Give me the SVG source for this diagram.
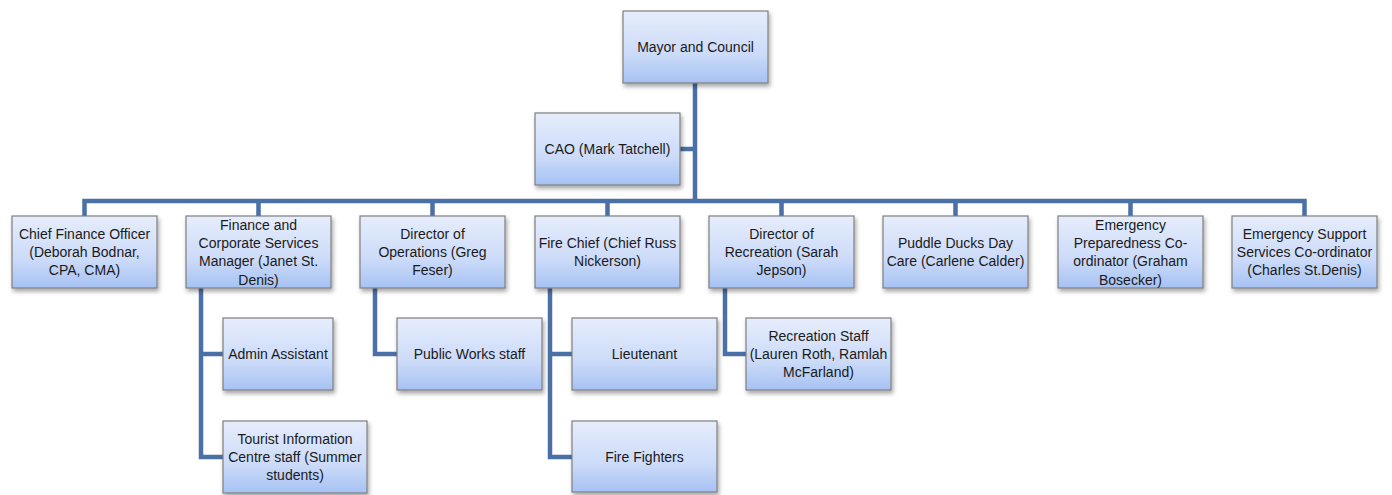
<svg xmlns="http://www.w3.org/2000/svg" width="1392" height="495" viewBox="0 0 1392 495">
<defs>
<linearGradient id="g" x1="0" y1="0" x2="0" y2="1">
<stop offset="0" stop-color="#e6edfc"/>
<stop offset="0.6" stop-color="#ccdbf9"/>
<stop offset="1" stop-color="#a6c2f3"/>
</linearGradient>
<filter id="sh" x="-10%" y="-10%" width="130%" height="140%">
<feDropShadow dx="1.5" dy="3" stdDeviation="2" flood-color="#000" flood-opacity="0.35"/>
</filter>
</defs>
<style>
.box{fill:url(#g);stroke:#7f7f7f;stroke-width:1.2;filter:url(#sh)}
.t{font-family:"Liberation Sans",Arial,sans-serif;font-size:14px;fill:#1a1a1a;text-anchor:middle}
.c{fill:none;stroke:#4a70a7;stroke-width:4.5;stroke-linejoin:miter}
</style>
<rect width="1392" height="495" fill="#fff"/>
<g id="connectors">
<path class="c" d="M695 83V201M680 149H695M84.5 216V201H1304.5V216M258.5 201V216M432.5 201V216M607.5 201V216M781.5 201V216M955.5 201V216M1130.5 201V216"/>
<path class="c" d="M201 288V457H223M201 354H223"/>
<path class="c" d="M375 288V354H397"/>
<path class="c" d="M550 288V457H572M550 354H572"/>
<path class="c" d="M725 288V354H746"/>
</g>
<g id="mayor"><rect class="box" x="623" y="11" width="145" height="72"/><text class="t" x="695.5" y="52">Mayor and Council</text></g>
<g id="cao"><rect class="box" x="535" y="113" width="145" height="72"/><text class="t" x="607.5" y="154">CAO (Mark Tatchell)</text></g>
<g id="cfo"><rect class="box" x="12" y="216" width="145" height="72"/><text class="t" x="84.5"><tspan x="84.5" y="238.7">Chief Finance Officer</tspan><tspan x="84.5" y="257">(Deborah Bodnar,</tspan><tspan x="84.5" y="275.3">CPA, CMA)</tspan></text></g>
<g id="fcs"><rect class="box" x="186" y="216" width="145" height="72"/><text class="t"><tspan x="258.5" y="229.6">Finance and</tspan><tspan x="258.5" y="247.9">Corporate Services</tspan><tspan x="258.5" y="266.2">Manager (Janet St.</tspan><tspan x="258.5" y="284.5">Denis)</tspan></text></g>
<g id="ops"><rect class="box" x="360" y="216" width="145" height="72"/><text class="t"><tspan x="432.5" y="238.7">Director of</tspan><tspan x="432.5" y="257">Operations (Greg</tspan><tspan x="432.5" y="275.3">Feser)</tspan></text></g>
<g id="fire"><rect class="box" x="535" y="216" width="145" height="72"/><text class="t"><tspan x="607.5" y="247.9">Fire Chief (Chief Russ</tspan><tspan x="607.5" y="266.2">Nickerson)</tspan></text></g>
<g id="rec"><rect class="box" x="709" y="216" width="145" height="72"/><text class="t"><tspan x="781.5" y="238.7">Director of</tspan><tspan x="781.5" y="257">Recreation (Sarah</tspan><tspan x="781.5" y="275.3">Jepson)</tspan></text></g>
<g id="daycare"><rect class="box" x="883" y="216" width="145" height="72"/><text class="t"><tspan x="955.5" y="247.9">Puddle Ducks Day</tspan><tspan x="955.5" y="266.2">Care (Carlene Calder)</tspan></text></g>
<g id="eprep"><rect class="box" x="1058" y="216" width="145" height="72"/><text class="t"><tspan x="1130.5" y="229.6">Emergency</tspan><tspan x="1130.5" y="247.9">Preparedness Co-</tspan><tspan x="1130.5" y="266.2">ordinator (Graham</tspan><tspan x="1130.5" y="284.5">Bosecker)</tspan></text></g>
<g id="esupport"><rect class="box" x="1232" y="216" width="145" height="72"/><text class="t"><tspan x="1304.5" y="238.7">Emergency Support</tspan><tspan x="1304.5" y="257">Services Co-ordinator</tspan><tspan x="1304.5" y="275.3">(Charles St.Denis)</tspan></text></g>
<g id="admin"><rect class="box" x="223" y="318" width="110" height="72"/><text class="t" x="278" y="359">Admin Assistant</text></g>
<g id="tourist"><rect class="box" x="223" y="421" width="144" height="72"/><text class="t"><tspan x="295" y="443.7">Tourist Information</tspan><tspan x="295" y="462">Centre staff (Summer</tspan><tspan x="295" y="480.3">students)</tspan></text></g>
<g id="publicworks"><rect class="box" x="397" y="318" width="145" height="72"/><text class="t" x="469.5" y="359">Public Works staff</text></g>
<g id="lieutenant"><rect class="box" x="572" y="318" width="145" height="72"/><text class="t" x="644.5" y="359">Lieutenant</text></g>
<g id="firefighters"><rect class="box" x="572" y="421" width="145" height="71"/><text class="t" x="644.5" y="461.5">Fire Fighters</text></g>
<g id="recstaff"><rect class="box" x="746" y="318" width="145" height="72"/><text class="t"><tspan x="818.5" y="340.7">Recreation Staff</tspan><tspan x="818.5" y="359">(Lauren Roth, Ramlah</tspan><tspan x="818.5" y="377.3">McFarland)</tspan></text></g>
</svg>
